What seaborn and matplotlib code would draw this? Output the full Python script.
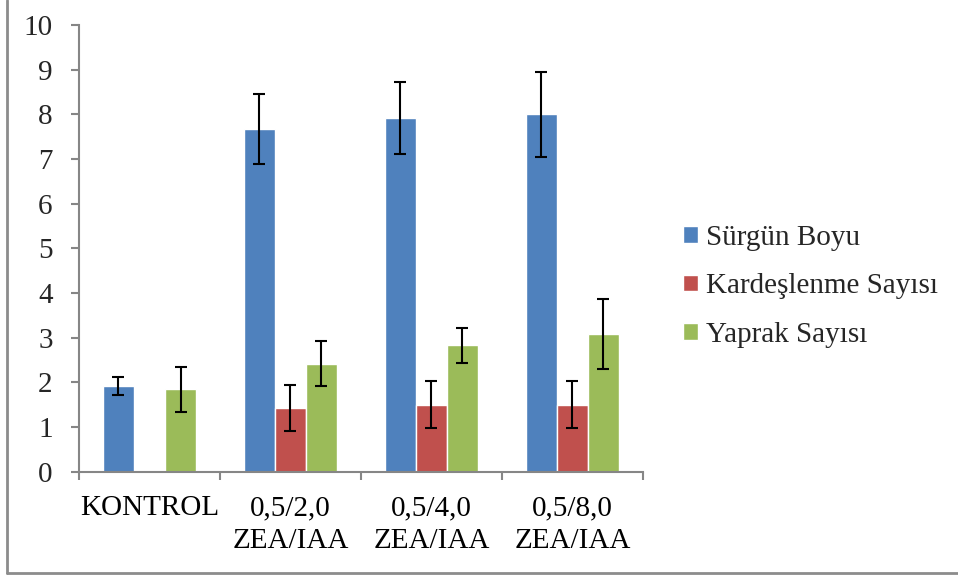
import numpy as np
import pandas as pd
import matplotlib
matplotlib.use("Agg")
import matplotlib.pyplot as plt
import seaborn as sns
from matplotlib.lines import Line2D

# data
groups = ["KONTROL", "0,5/2,0\nZEA/IAA", "0,5/4,0\nZEA/IAA", "0,5/8,0\nZEA/IAA"]
series = ["Sürgün Boyu", "Kardeşlenme Sayısı", "Yaprak Sayısı"]
surgun_boyu = [1.92, 7.67, 7.92, 8.0]
surgun_err = [0.20, 0.78, 0.80, 0.95]
kardeslenme = [0.0, 1.43, 1.50, 1.50]
kardeslenme_err = [np.nan, 0.51, 0.52, 0.52]
yaprak = [1.84, 2.42, 2.83, 3.08]
yaprak_err = [0.50, 0.51, 0.39, 0.79]
colors = ["#4F81BD", "#C0504D", "#9BBB59"]

df = pd.DataFrame({
    "grup": groups * 3,
    "seri": [s for s in series for _ in groups],
    "deger": surgun_boyu + kardeslenme + yaprak,
})
errs = [surgun_err, kardeslenme_err, yaprak_err]

sns.set_style("white")
plt.rcParams["font.family"] = ["Liberation Serif", "DejaVu Serif"]
plt.rcParams["font.size"] = 21

fig = plt.figure(figsize=(9.58, 5.75), dpi=100)
ax = fig.add_axes([0.0825, 0.1797, 0.671 - 0.0825, 0.9565 - 0.1797])

sns.barplot(data=df, x="grup", y="deger", hue="seri", order=groups,
            hue_order=series, palette=colors, width=0.66, gap=0,
            saturation=1, ax=ax, legend=True)

# error bars on the bar centres
for cont, e in zip(ax.containers, errs):
    xs = [b.get_x() + b.get_width() / 2 for b in cont]
    ys = [b.get_height() for b in cont]
    ax.errorbar(xs, ys, yerr=e, fmt="none", ecolor="black",
                elinewidth=1.5, capsize=4.5, capthick=1.5, zorder=5)

ax.set_ylim(0, 10)
ax.set_xlim(-0.5, len(groups) - 0.5)
ax.set_yticks(range(0, 11))
ax.set_xlabel("")
ax.set_ylabel("")

spine_col = "#868686"
for s in ["top", "right"]:
    ax.spines[s].set_visible(False)
for s in ["left", "bottom"]:
    ax.spines[s].set_color(spine_col)
    ax.spines[s].set_linewidth(1.5)

ax.set_xticks(range(len(groups)))
ax.set_xticklabels(groups, linespacing=1.35)
ax.set_xticks(np.arange(-0.5, len(groups), 1.0), minor=True)
ax.tick_params(axis="x", which="major", length=0, pad=17, labelsize=21,
               colors="black")
ax.tick_params(axis="x", which="minor", length=6, width=1.5, color=spine_col,
               direction="out", bottom=True)
ax.tick_params(axis="y", length=6, width=1.5, color=spine_col, direction="out",
               pad=13, labelsize=21, left=True)

# legend on the right
handles, labels = ax.get_legend_handles_labels()
ax.get_legend().remove()
fig.legend(handles, labels, loc="center left", bbox_to_anchor=(0.713, 0.502),
           frameon=False, fontsize=21, handlelength=0.5, handleheight=0.5,
           handletextpad=0.3, labelspacing=0.78, borderpad=0, borderaxespad=0)

# outer chart frame (left and bottom edges visible)
fig.add_artist(Line2D([0.0078, 0.0078], [0.0035, 1.0], transform=fig.transFigure,
                      color="#8c8c8c", linewidth=2))
fig.add_artist(Line2D([0.0078, 1.0], [0.0035, 0.0035], transform=fig.transFigure,
                      color="#8c8c8c", linewidth=2))

fig.savefig("out.png", dpi=100, facecolor="white")
